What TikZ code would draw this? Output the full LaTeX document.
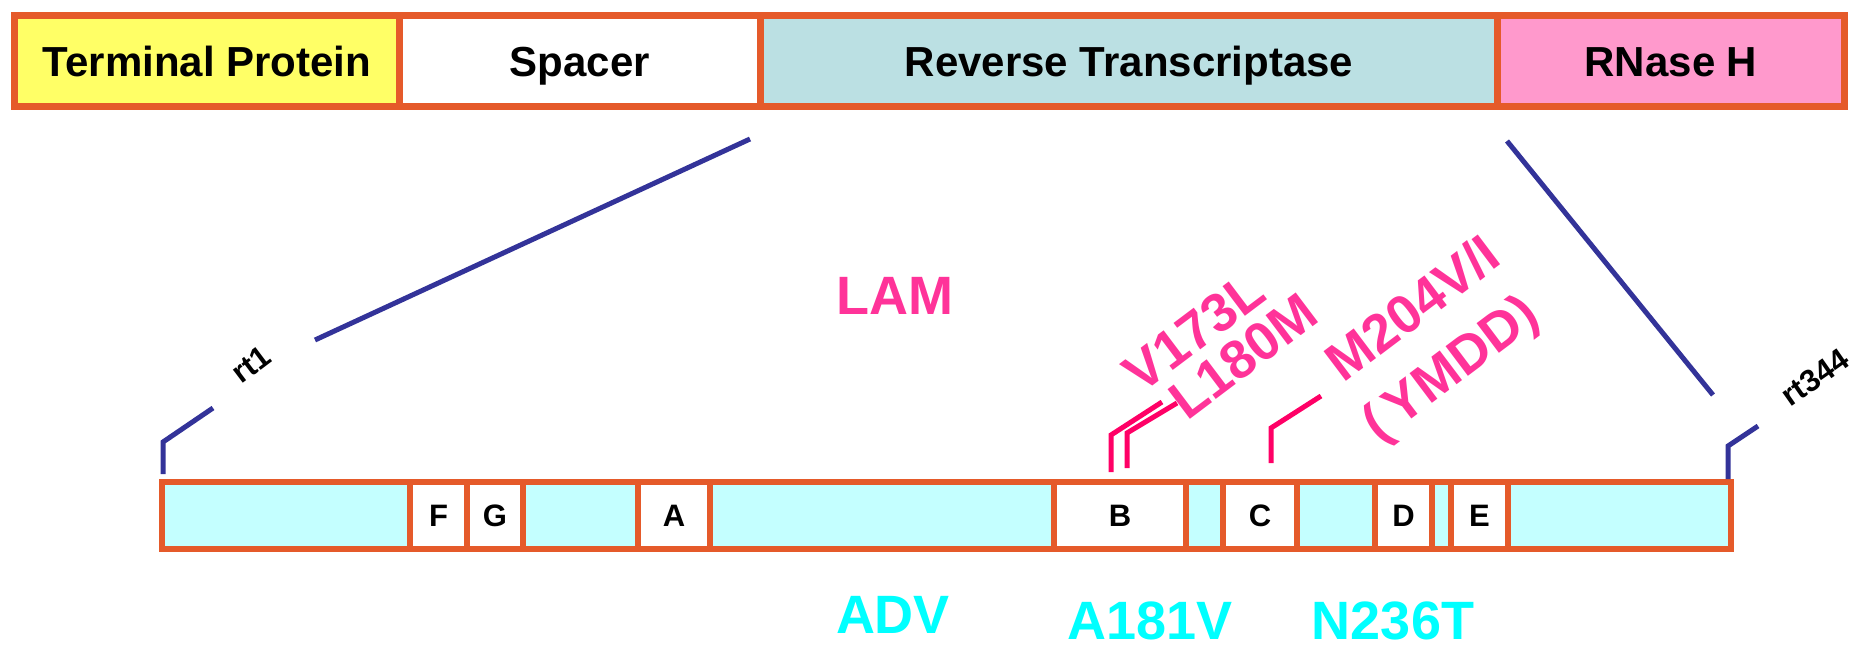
\documentclass[tikz,border=0pt]{standalone}
\usepackage{fontspec}
\setmainfont{Liberation Sans}
\definecolor{segborder}{RGB}{229,90,42}
\definecolor{tpyellow}{RGB}{255,255,102}
\definecolor{rtblue}{RGB}{187,224,227}
\definecolor{rnpink}{RGB}{255,153,204}
\definecolor{barcyan}{RGB}{196,255,255}
\definecolor{zoomblue}{RGB}{51,51,153}
\definecolor{mutline}{RGB}{255,0,102}
\definecolor{muttext}{RGB}{255,51,153}
\definecolor{drugcyan}{RGB}{0,255,255}
\begin{document}
\begin{tikzpicture}[x=1pt,y=-1pt,
  segment/.style={draw=segborder, line width=7pt, minimum height=91pt, inner sep=0pt,
    anchor=north west, font=\fontsize{42}{42}\selectfont\bfseries, text height=30pt, text depth=0pt},
  motif/.style={draw=segborder, line width=6pt, fill=white, minimum height=67pt, inner sep=0pt,
    anchor=north west, font=\fontsize{31}{31}\selectfont\bfseries, text height=22pt, text depth=0pt},
  zoomline/.style={draw=zoomblue, line width=5pt},
  leader/.style={draw=mutline, line width=5pt},
  mutlabel/.style={text=muttext, font=\fontsize{54}{54}\selectfont\bfseries, inner sep=0pt,
    text height=38pt, text depth=0pt, rotate=37},
  druglabel/.style={font=\fontsize{54}{54}\selectfont\bfseries, inner sep=0pt, anchor=base},
  posnlabel/.style={font=\fontsize{31}{31}\selectfont\bfseries, inner sep=0pt,
    text height=22pt, text depth=0pt}
]
\useasboundingbox (0,0) rectangle (1866,645);

% polymerase domains
\node[segment, fill=tpyellow, minimum width=385pt] (tp) at (11,12) {Terminal Protein};
\node[segment, fill=white,    minimum width=361pt] (sp) at (396,12) {Spacer};
\node[segment, fill=rtblue,   minimum width=737pt] (rt) at (757,12) {Reverse Transcriptase};
\node[segment, fill=rnpink,   minimum width=347pt] (rn) at (1494,12) {RNase H};

% expanded RT domain with conserved motifs
\node[draw=segborder, line width=5.5pt, fill=barcyan, minimum width=1569pt, minimum height=67pt,
  inner sep=0pt, anchor=north west] (bar) at (159,479) {};
\node[motif, minimum width=57pt]  (mF) at (407,479)  {F};
\node[motif, minimum width=56pt]  (mG) at (464,479)  {G};
\node[motif, minimum width=72pt]  (mA) at (635,479)  {A};
\node[motif, minimum width=132pt] (mB) at (1051,479) {B};
\node[motif, minimum width=74pt]  (mC) at (1220,479) {C};
\node[motif, minimum width=57pt]  (mD) at (1372,479) {D};
\node[motif, minimum width=57pt]  (mE) at (1448,479) {E};

% zoom lines from the RT domain
\coordinate (zl1) at (750,139);
\coordinate (zl2) at (315,340);
\coordinate (zr1) at (1507,141);
\coordinate (zr2) at (1713,395);
\draw[zoomline] (zl1) -- (zl2);
\draw[zoomline] (zr1) -- (zr2);

% end brackets rt1 / rt344
\coordinate (s1a) at (163,474);
\coordinate (s1b) at (163,442);
\coordinate (s1c) at (213,408);
\draw[zoomline] (s1a) -- (s1b) -- (s1c);
\coordinate (s2a) at (1728,479);
\coordinate (s2b) at (1728,446);
\coordinate (s2c) at (1758,426);
\draw[zoomline] (s2a) -- (s2b) -- (s2c);
\node[posnlabel, rotate=37] (rt1) at (251,364) {rt1};
\node[posnlabel, rotate=35] (rt344) at (1815,377) {rt344};

% resistance mutation leaders
\coordinate (v1) at (1111,472);
\coordinate (v2) at (1111,435);
\coordinate (v3) at (1162,402);
\draw[leader] (v1) -- (v2) -- (v3);
\coordinate (l1) at (1127,468);
\coordinate (l2) at (1127,433);
\coordinate (l3) at (1177,403);
\draw[leader] (l1) -- (l2) -- (l3);
\coordinate (m1) at (1271,463);
\coordinate (m2) at (1271,428);
\coordinate (m3) at (1321,396);
\draw[leader] (m1) -- (m2) -- (m3);

\node[mutlabel] (v173l) at (1194,331) {V173L};
\node[mutlabel] (l180m) at (1243,356) {L180M};
\node[mutlabel] (m204)  at (1412,308) {M204V/I};
\node[mutlabel] (ymdd)  at (1449,367) {(\,YMDD)};

% drugs
\node[druglabel, text=muttext]  (lam)   at (895,314)  {LAM};
\node[druglabel, text=drugcyan] (adv)   at (893,633)  {ADV};
\node[druglabel, text=drugcyan] (a181v) at (1150,639) {A181V};
\node[druglabel, text=drugcyan] (n236t) at (1393,639) {N236T};
\end{tikzpicture}
\end{document}
